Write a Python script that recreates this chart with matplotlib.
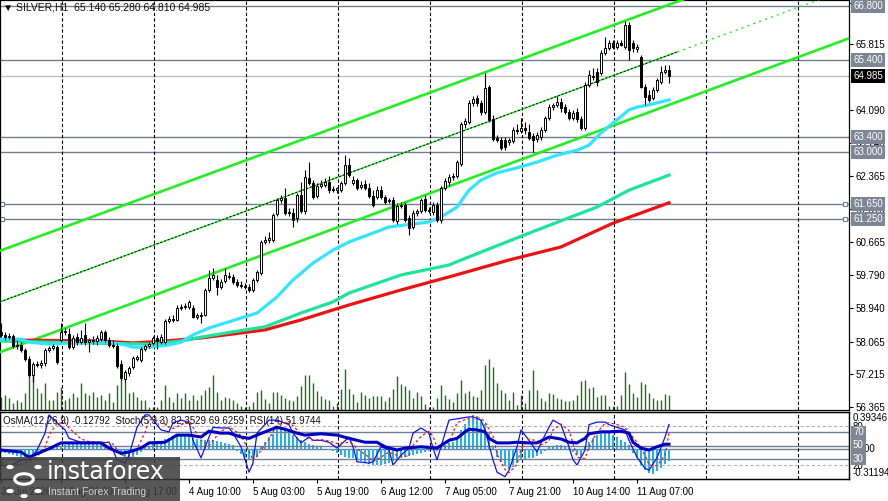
import matplotlib
matplotlib.use('Agg')  # no display in the sandbox

import matplotlib.pyplot as plt
import matplotlib.transforms as mtransforms
from matplotlib.patches import Rectangle, Circle
import numpy as np

plt.rcParams['font.family'] = ['Liberation Sans', 'DejaVu Sans']

# ---- SILVER H1 candles ----
opens = [58.32, 58.24, 58.18, 58.21, 57.95, 57.98, 57.85, 57.61, 57.20, 57.48,
         57.45, 57.51, 57.85, 57.90, 57.92, 58.11, 58.32, 58.26, 57.92, 58.18,
         58.05, 58.24, 58.05, 58.11, 58.08, 58.13, 58.32, 58.11, 57.98, 57.95,
         57.48, 57.09, 57.25, 57.40, 57.61, 57.59, 57.87, 57.95, 58.03, 58.16,
         58.05, 58.05, 58.60, 58.65, 58.63, 58.94, 58.97, 58.97, 58.94, 58.70,
         58.76, 58.76, 59.41, 59.72, 59.67, 59.49, 59.64, 59.75, 59.75, 59.62,
         59.54, 59.51, 59.49, 59.41, 59.67, 59.85, 60.66, 60.71, 60.71, 61.39,
         61.75, 61.80, 61.41, 61.41, 61.28, 61.88, 61.47, 62.33, 62.20, 61.86,
         62.12, 62.14, 62.22, 62.01, 62.01, 62.01, 62.20, 62.66, 62.20, 62.27,
         62.09, 62.17, 62.06, 61.86, 61.83, 62.01, 61.83, 61.73, 61.75, 61.21,
         61.60, 61.62, 61.28, 61.05, 61.41, 61.47, 61.78, 61.49, 61.44, 61.62,
         61.23, 62.06, 62.22, 62.35, 62.38, 62.69, 63.73, 63.78, 64.28, 64.41,
         64.28, 64.04, 64.70, 63.86, 63.37, 63.32, 63.32, 63.26, 63.29, 63.58,
         63.55, 63.63, 63.52, 63.42, 63.34, 63.39, 63.58, 63.89, 64.17, 64.23,
         64.30, 64.17, 64.04, 63.89, 64.04, 63.86, 63.63, 64.75, 64.98, 65.09,
         65.06, 65.58, 65.71, 65.84, 65.74, 65.84, 65.74, 66.31, 65.84, 65.69,
         65.48, 64.70, 64.49, 64.41, 64.62, 64.83, 65.09, 65.140]
highs = [58.55, 58.32, 58.29, 58.26, 58.11, 58.05, 57.90, 57.69, 57.53, 57.56,
         57.59, 57.90, 57.95, 58.00, 57.98, 58.55, 58.42, 58.42, 58.24, 58.29,
         58.37, 58.55, 58.16, 58.21, 58.24, 58.37, 58.37, 58.18, 58.11, 58.03,
         57.59, 57.33, 57.43, 57.69, 57.72, 57.92, 58.00, 58.05, 58.21, 58.24,
         58.26, 58.65, 58.73, 58.76, 59.02, 59.04, 59.07, 59.15, 59.02, 58.81,
         58.84, 59.46, 59.93, 59.98, 59.80, 59.70, 59.98, 59.88, 59.83, 59.70,
         59.64, 59.59, 59.57, 59.72, 59.93, 60.71, 60.82, 60.92, 61.41, 61.80,
         61.88, 62.06, 61.54, 61.54, 61.94, 62.22, 62.53, 62.74, 62.27, 62.20,
         62.27, 62.33, 62.38, 62.12, 62.09, 62.25, 62.92, 62.85, 62.38, 62.33,
         62.25, 62.27, 62.20, 62.01, 62.12, 62.12, 61.88, 61.80, 61.83, 61.68,
         61.70, 61.70, 61.36, 61.49, 61.52, 61.80, 61.88, 61.57, 61.70, 61.70,
         62.12, 62.33, 62.43, 62.46, 62.79, 63.78, 63.89, 64.36, 64.46, 64.49,
         64.36, 65.06, 64.75, 63.97, 63.45, 63.39, 63.39, 63.37, 63.65, 63.73,
         63.89, 63.78, 63.72, 63.50, 63.52, 63.65, 63.94, 64.25, 64.28, 64.46,
         64.41, 64.25, 64.12, 64.10, 64.15, 63.94, 64.83, 65.14, 65.19, 65.19,
         65.66, 66.00, 65.92, 65.92, 65.92, 65.92, 66.41, 66.39, 65.92, 65.82,
         65.53, 64.77, 64.62, 64.70, 64.93, 65.24, 65.27, 65.280]
lows = [58.18, 58.11, 58.13, 57.90, 57.87, 57.79, 57.56, 57.14, 57.01, 57.40,
        57.38, 57.43, 57.79, 57.85, 57.48, 58.05, 58.24, 57.87, 57.87, 57.98,
        58.00, 57.98, 57.79, 58.00, 57.98, 58.08, 58.05, 57.92, 57.90, 57.38,
        57.07, 56.99, 57.17, 57.35, 57.56, 57.53, 57.82, 57.90, 57.98, 57.87,
        58.00, 58.00, 58.55, 58.58, 58.60, 58.89, 58.91, 58.91, 58.68, 58.65,
        58.55, 58.73, 59.36, 59.67, 59.28, 59.44, 59.59, 59.70, 59.57, 59.49,
        59.46, 59.44, 59.36, 59.36, 59.62, 59.80, 60.61, 60.63, 60.66, 61.34,
        61.68, 61.36, 61.34, 61.05, 61.18, 61.41, 61.39, 62.14, 61.78, 61.80,
        62.06, 62.09, 61.94, 61.96, 61.94, 61.96, 62.14, 62.35, 62.14, 62.01,
        62.04, 62.01, 61.80, 61.57, 61.78, 61.78, 61.65, 61.68, 61.18, 61.13,
        61.54, 61.18, 60.84, 61.00, 61.34, 61.41, 61.44, 61.41, 61.36, 61.18,
        61.15, 62.01, 62.12, 62.27, 62.33, 62.64, 63.63, 63.73, 64.20, 64.20,
        63.97, 63.99, 63.78, 63.29, 63.26, 63.05, 63.05, 63.18, 63.24, 63.47,
        63.50, 63.47, 63.32, 63.00, 63.26, 63.32, 63.52, 63.84, 64.10, 64.17,
        64.04, 63.99, 63.84, 63.84, 63.78, 63.58, 63.58, 64.70, 64.88, 64.72,
        65.01, 65.53, 65.66, 65.69, 65.69, 65.76, 65.69, 65.40, 65.61, 65.61,
        64.67, 64.23, 64.30, 64.36, 64.56, 64.77, 65.03, 64.810]
closes = [58.24, 58.18, 58.21, 57.95, 57.98, 57.85, 57.61, 57.20, 57.48, 57.45,
          57.51, 57.85, 57.90, 57.95, 57.53, 58.32, 58.34, 57.92, 58.16, 58.05,
          58.16, 58.05, 58.11, 58.08, 58.16, 58.32, 58.11, 57.98, 57.95, 57.43,
          57.12, 57.27, 57.38, 57.64, 57.66, 57.87, 57.95, 58.00, 58.16, 58.08,
          58.18, 58.60, 58.65, 58.63, 58.94, 58.97, 58.99, 59.10, 58.70, 58.76,
          58.73, 59.41, 59.72, 59.80, 59.49, 59.62, 59.80, 59.77, 59.62, 59.54,
          59.51, 59.49, 59.41, 59.67, 59.88, 60.66, 60.71, 60.76, 61.36, 61.75,
          61.80, 61.41, 61.44, 61.23, 61.88, 61.47, 62.35, 62.20, 61.83, 62.12,
          62.17, 62.22, 62.01, 62.04, 62.06, 62.20, 62.66, 62.40, 62.27, 62.06,
          62.14, 62.06, 61.86, 61.62, 62.01, 61.83, 61.70, 61.75, 61.23, 61.60,
          61.62, 61.23, 61.02, 61.41, 61.47, 61.75, 61.49, 61.47, 61.62, 61.23,
          62.06, 62.25, 62.35, 62.38, 62.74, 63.72, 63.81, 64.28, 64.38, 64.28,
          64.04, 64.67, 63.84, 63.34, 63.32, 63.11, 63.13, 63.32, 63.58, 63.55,
          63.63, 63.58, 63.37, 63.32, 63.45, 63.58, 63.89, 64.17, 64.23, 64.30,
          64.15, 64.04, 63.89, 64.02, 63.86, 63.63, 64.75, 65.01, 64.96, 64.83,
          65.58, 65.71, 65.84, 65.74, 65.84, 65.79, 66.31, 65.66, 65.71, 65.74,
          64.70, 64.44, 64.36, 64.62, 64.88, 65.09, 65.14, 64.985]
volumes = [520, 600, 480, 280, 400, 320, 680, 1800, 1400, 880,
           680, 1080, 400, 400, 720, 920, 400, 480, 680, 520,
           1080, 680, 600, 720, 520, 600, 400, 680, 320, 1000,
           1720, 1080, 680, 720, 520, 400, 400, 120, 120, 120,
           400, 1000, 520, 320, 680, 480, 680, 400, 600, 400,
           600, 800, 920, 1400, 720, 400, 520, 480, 400, 280,
           160, 120, 160, 320, 720, 800, 440, 280, 720, 720,
           600, 480, 400, 360, 560, 960, 1400, 1400, 1080, 760,
           560, 440, 400, 160, 280, 840, 1640, 840, 640, 320,
           720, 600, 480, 560, 560, 560, 360, 520, 840, 1360,
           1040, 960, 800, 480, 720, 560, 240, 120, 120, 480,
           1000, 600, 440, 320, 680, 1200, 680, 760, 560, 520,
           800, 1800, 2040, 1720, 1080, 800, 680, 400, 720, 200,
           600, 280, 800, 1600, 800, 480, 360, 680, 640, 480,
           440, 360, 360, 400, 600, 1160, 1200, 880, 920, 520,
           600, 600, 160, 160, 160, 600, 1520, 1040, 680, 520,
           1120, 1040, 680, 480, 400, 400, 640, 600]

# moving averages (sampled along the lines)
ma_fast_idx = [0, 5, 7, 12, 17, 22, 27, 31, 33, 37, 42, 45, 48, 52, 57, 60, 64, 69, 73, 78,
               83, 87, 95, 97, 107, 110, 114, 117, 120, 124, 129, 134, 139, 144, 147, 150,
               154, 157, 159, 162, 167]
ma_fast = [58.13, 58.13, 58.05, 58.00, 58.03, 58.05, 58.05, 57.98, 57.92, 57.92,
           57.98, 58.05, 58.24, 58.42, 58.58, 58.68, 58.81, 59.23, 59.67, 60.11,
           60.45, 60.66, 60.97, 61.05, 61.18, 61.31, 61.57, 62.01, 62.27, 62.46,
           62.59, 62.74, 62.92, 63.05, 63.18, 63.50, 63.84, 64.10, 64.17, 64.23, 64.36]
ma_mid_idx = [0, 20, 37, 45, 50, 58, 66, 75, 83, 87, 100, 112, 115, 132, 149, 157, 167]
ma_mid = [58.08, 58.03, 58.00, 58.08, 58.18, 58.32, 58.45, 58.81, 59.10, 59.33,
          59.80, 60.06, 60.19, 60.89, 61.57, 62.01, 62.40]
ma_slow_idx = [0, 25, 33, 41, 50, 60, 66, 75, 83, 87, 100, 112, 127, 140, 153, 167]
ma_slow = [58.11, 58.08, 58.03, 58.08, 58.16, 58.29, 58.37, 58.63, 58.89, 59.02,
           59.41, 59.75, 60.19, 60.53, 61.15, 61.68]

# equidistant channel anchors
chan_idx = [0, 167]
chan_upper = [60.44, 66.84]
chan_mid = [59.11, 65.53]
chan_lower = [57.80, 64.23]

levels = [66.800, 65.400, 63.400, 63.000, 61.650, 61.250]
last_price = 64.985
price_ticks = [66.885, 65.815, 64.090, 63.240, 62.365, 61.515, 60.665,
               59.790, 58.940, 58.065, 57.215, 56.365]

# OsMA(12,26,9) histogram
osma = [-0.04, -0.04, -0.05, -0.06, -0.07, -0.08, -0.08, -0.08, -0.07, -0.06,
        -0.05, -0.03, -0.01, 0.01, 0.02,
        0.04, 0.05, 0.06, 0.07, 0.07, 0.07, 0.07, 0.07, 0.06, 0.06, 0.06, 0.05, 0.04,
        -0.01, -0.03, -0.06, -0.08, -0.09, -0.08, -0.06, -0.03,
        0.02, 0.04, 0.06, 0.07,
        0.09, 0.11, 0.12, 0.14, 0.15, 0.15, 0.15, 0.14, 0.12, 0.11, 0.10,
        0.10, 0.10, 0.10, 0.09, 0.08, 0.07, 0.06, 0.05,
        -0.02, -0.05, -0.08, -0.11, -0.12, -0.08,
        0.02, 0.08, 0.13, 0.17, 0.22, 0.24, 0.23, 0.20,
        0.16, 0.13, 0.10, 0.08, 0.06, 0.05, 0.04,
        0.02, 0.00, -0.01, -0.02,
        -0.04, -0.06, -0.08, -0.09, -0.10, -0.12, -0.13, -0.15, -0.16, -0.17,
        -0.17, -0.17, -0.16, -0.15, -0.13,
        -0.11, -0.09, -0.08, -0.07, -0.06, -0.05, -0.04, -0.03, -0.02,
        0.01, -0.02,
        0.03, 0.05, 0.07, 0.08,
        0.12, 0.21, 0.27, 0.33, 0.37, 0.36, 0.32, 0.27, 0.18, 0.03,
        -0.08, -0.14, -0.18, -0.21, -0.19, -0.15, -0.12, -0.11, -0.10, -0.09, -0.07,
        -0.05, -0.02,
        0.02, 0.04, 0.05, 0.05, 0.04,
        0.01, -0.03, -0.06, -0.08,
        0.02, 0.08, 0.12, 0.15, 0.18, 0.19, 0.18, 0.16, 0.13, 0.10,
        0.08, 0.05,
        -0.04, -0.10, -0.17, -0.22, -0.26, -0.27, -0.24, -0.20, -0.16, -0.128]

# Stochastic(5,3,3) main / signal
stoch_idx = [0, 2, 5, 7, 9, 11, 12, 14, 16, 17, 20, 22, 25, 27, 28, 29, 31, 32, 34, 36,
             37, 40, 42, 43, 45, 47, 48, 50, 52, 53, 55, 57, 58, 60, 62, 63, 64, 67, 69, 72,
             73, 75, 77, 78, 80, 82, 84, 87, 88, 89, 92, 93, 95, 97, 98, 100, 102, 103, 105,
             107, 108, 109, 112, 114, 117, 118, 120, 121, 123, 124, 126, 127, 129, 130, 132,
             134, 135, 137, 138, 140, 142, 143, 144, 146, 147, 149, 151, 152, 154, 156, 157,
             159, 161, 162, 164, 166, 167]
stoch_main = [20, 17, 28, 28, 43, 69, 97, 85, 74, 61, 55, 55, 54, 55, 43, 28, 23, 35, 78, 97,
              97, 74, 71, 85, 89, 86, 58, 31, 63, 78, 77, 77, 69, 48, 9, 23, 69, 89, 89, 82,
              69, 54, 63, 58, 58, 55, 46, 63, 48, 25, 23, 25, 48, 43, 20, 35, 46, 69, 77,
              69, 46, 28, 89, 91, 94, 94, 89, 74, 28, 9, 2, 12, 48, 74, 58,
              40, 54, 78, 89, 82, 48, 28, 20, 43, 82, 86, 86, 82, 78, 74, 58,
              32, 15, 12, 31, 63, 82.35]
stoch_signal = [24, 20, 21, 25, 33, 47, 66, 84, 85, 77, 60, 56, 55, 55, 52, 44, 32, 28, 45, 70,
                90, 88, 78, 76, 82, 87, 78, 58, 50, 58, 72, 78, 75, 65, 42, 27, 34, 60, 82, 87,
                80, 68, 60, 58, 59, 57, 53, 55, 52, 45, 32, 25, 32, 40, 37, 33, 34, 50, 64,
                72, 64, 48, 55, 85, 92, 93, 92, 86, 64, 37, 13, 8, 21, 45, 60,
                57, 51, 57, 74, 83, 73, 53, 32, 30, 48, 70, 84, 85, 82, 78, 70,
                55, 35, 20, 19, 35, 69.63]

# RSI(14)
rsi_idx = [0, 5, 7, 10, 12, 15, 17, 22, 25, 27, 30, 32, 35, 37, 41, 44, 47, 50, 52, 55,
           57, 60, 62, 64, 66, 69, 71, 74, 76, 80, 84, 87, 91, 94, 96, 99, 101, 105, 107,
           109, 111, 112, 114, 116, 117, 119, 121, 122, 124, 127, 129, 132, 134, 136, 137,
           140, 142, 144, 146, 147, 150, 152, 155, 157, 158, 160, 162, 164, 166, 167]
rsi_vals = [43, 40, 32, 40, 45, 54, 54, 54, 54, 46, 38, 40, 46, 54, 55, 66, 66, 63, 72, 69,
            69, 63, 61, 66, 71, 78, 75, 69, 66, 68, 66, 61, 55, 55, 48, 43, 46, 48, 47,
            46, 54, 58, 61, 71, 75, 74, 71, 61, 54, 54, 55, 54, 54, 60, 63,
            60, 55, 54, 61, 68, 71, 71, 72, 69, 55, 46, 43, 48, 52, 51.97]

time_idx = [0, 15, 31, 47, 63, 79, 95, 111, 127, 143, 159]
time_labels = ['31 Jul 2026', '3 Aug 01:00', '3 Aug 17:00', '4 Aug 10:00', '5 Aug 03:00',
               '5 Aug 19:00', '6 Aug 12:00', '7 Aug 05:00', '7 Aug 21:00',
               '10 Aug 14:00', '11 Aug 07:00']

# ---- figure ----
W, H = 888, 501
fig = plt.figure(figsize=(W / 100, H / 100), dpi=100)
ax = fig.add_axes([0, 1 - 410 / H, 849 / W, 410 / H])
vax = ax.twinx()
ax.set_zorder(vax.get_zorder() + 1)
ax.patch.set_visible(False)

XMAX = 212
idx = np.arange(len(closes))
o = np.array(opens)
c = np.array(closes)

# volumes
vax.vlines(idx, 0, volumes, color='#117711', lw=1.0)
vax.set_ylim(0, 16400)
vax.set_yticks([])
for s in vax.spines.values():
    s.set_visible(False)

level_col = '#6e7d93'
for lvl in levels:
    ax.axhline(lvl, color=level_col, lw=1.0, zorder=1)
ax.axhline(last_price, color='#c0c0c0', lw=1.0, zorder=1)
for lvl in (61.650, 61.250):
    ax.plot([0.3, XMAX - 0.9], [lvl, lvl], ls='none', marker='s', ms=3.2,
            mfc='white', mec=level_col, mew=0.8, zorder=2, clip_on=False)

# vertical dashed grid
grid_x = 15.2 + 23 * np.arange(9)
for gx in grid_x:
    ax.axvline(gx, color='black', lw=0.8, ls=(0, (3, 2)), zorder=1)

# channel
x0, x1 = -0.3, XMAX
for anchors, lw in ((chan_upper, 1.9), (chan_lower, 1.9)):
    k = (anchors[1] - anchors[0]) / (chan_idx[1] - chan_idx[0])
    ax.plot([x0, x1], [anchors[0] + k * x0, anchors[0] + k * x1], color='#22ee22', lw=lw, zorder=3)
k = (chan_mid[1] - chan_mid[0]) / (chan_idx[1] - chan_idx[0])
xm = 169
ax.plot([x0, xm], [chan_mid[0] + k * x0, chan_mid[0] + k * xm], color='#22ee22', lw=1.0, zorder=3)
ax.plot([x0, xm], [chan_mid[0] + k * x0, chan_mid[0] + k * xm], color='black', lw=0.7,
        ls=(0, (2, 2)), zorder=3)
ax.plot([xm, x1], [chan_mid[0] + k * xm, chan_mid[0] + k * x1], color='#22ee22', lw=1.0,
        ls=(0, (1.5, 3)), zorder=3)

# moving averages
ax.plot(ma_slow_idx, ma_slow, color='#ee1111', lw=2.3, zorder=3)
ax.plot(ma_mid_idx, ma_mid, color='#1ee39c', lw=2.3, zorder=3)
ax.plot(ma_fast_idx, ma_fast, color='#33e4ff', lw=2.3, zorder=3)

# candles
ax.vlines(idx, lows, highs, color='black', lw=0.8, zorder=4)
body_col = np.where(c >= o, 'white', 'black')
ax.bar(idx, np.abs(c - o), bottom=np.minimum(o, c), width=0.55, color=body_col,
       edgecolor='black', linewidth=0.7, zorder=5)

ax.set_xlim(-0.25, XMAX)
ax.set_ylim(56.284, 66.961)
ax.set_xticks([])
ax.yaxis.tick_right()
ax.set_yticks(price_ticks)
ax.set_yticklabels(['%.3f' % v for v in price_ticks])
ax.tick_params(axis='y', direction='out', length=3, width=0.8, pad=2, labelsize=7)
for s in ax.spines.values():
    s.set_color('black')
    s.set_linewidth(0.9)

tr = mtransforms.blended_transform_factory(ax.transAxes, ax.transData)
for lvl in levels:
    ax.text(1 + 4 / 849, lvl, '%.3f' % lvl, transform=tr, ha='left', va='center',
            color='white', fontsize=7, zorder=10, clip_on=False,
            bbox=dict(boxstyle='square,pad=0.22', fc='#7d8694', ec='none'))
ax.text(1 + 4 / 849, last_price, '%.3f' % last_price, transform=tr, ha='left', va='center',
        color='white', fontsize=7, zorder=10, clip_on=False,
        bbox=dict(boxstyle='square,pad=0.22', fc='black', ec='none'))

ax.text(0.003, 1 - 7 / 410, '\u25bc SILVER,H1  %.3f %.3f %.3f %.3f'
        % (opens[-1], highs[-1], lows[-1], closes[-1]),
        transform=ax.transAxes, ha='left', va='center', fontsize=7.5, color='#111111', zorder=10)

# ---- indicator window ----
ox = fig.add_axes([0, 1 - 479 / H, 849 / W, 67 / H])
sx = ox.twinx()
ox.bar(idx, osma, width=0.72, color='#1fb4ef', zorder=2)
ox.axhline(0, color=level_col, lw=1.0, zorder=1)
for gx in grid_x:
    ox.axvline(gx, color='black', lw=0.8, ls=(0, (3, 2)), zorder=1)
ox.set_ylim(-0.32279, 0.40431)
ox.set_xlim(-0.25, XMAX)
ox.set_yticks([])

for lvl in (80, 20):
    sx.axhline(lvl, color='#b4b4b4', lw=0.8, ls=(0, (3, 2)), zorder=1)
for lvl in (70, 50, 30):
    sx.axhline(lvl, color=level_col, lw=1.0, zorder=1)
sx.plot(stoch_idx, stoch_main, color='#1010ff', lw=0.9, zorder=3)
sx.plot(stoch_idx, stoch_signal, color='#ff1010', lw=0.9, ls=(0, (2, 2)), zorder=3)
sx.plot(rsi_idx, rsi_vals, color='#0000c0', lw=2.2, zorder=4)
sx.set_ylim(-1.5, 101.5)
sx.set_yticks([])
for a in (ox, sx):
    for s in a.spines.values():
        s.set_color('black')
        s.set_linewidth(0.9)

ox.set_xticks(time_idx)
ox.set_xticklabels(time_labels)
ox.tick_params(axis='x', length=3, width=0.8, pad=3, labelsize=7)
for lbl in ox.get_xticklabels():
    lbl.set_horizontalalignment('left')

sx.text(0.003, 0.87, 'OsMA(12,26,9) -0.12792  Stoch(5,3,3) 82.3529 69.6259  RSI(14) 51.9744',
        transform=sx.transAxes, ha='left', va='center', fontsize=7, color='#111111', zorder=10)

trs = mtransforms.blended_transform_factory(sx.transAxes, sx.transData)
tro = mtransforms.blended_transform_factory(ox.transAxes, ox.transData)
lx = 1 + 4 / 849
sx.text(lx, 100, '0.39346', transform=trs, ha='left', va='top', fontsize=7, clip_on=False)
sx.text(lx, 0, '-0.31194', transform=trs, ha='left', va='bottom', fontsize=7, clip_on=False)
sx.text(lx, 79, '80', transform=trs, ha='left', va='center', fontsize=7, clip_on=False)
sx.text(lx, 19, '20', transform=trs, ha='left', va='center', fontsize=7, clip_on=False)
ox.text(lx + 0.004, 0, '0.00', transform=tro, ha='left', va='center', fontsize=7, clip_on=False)
for lvl in (70, 50, 30):
    sx.text(lx, lvl, str(lvl), transform=trs, ha='left', va='center', color='white',
            fontsize=7, clip_on=False, zorder=10,
            bbox=dict(boxstyle='square,pad=0.18', fc='#7d8694', ec='none'))

# ---- logo ----
fig.patches.append(Rectangle((0, 0), 180 / W, 44 / H, transform=fig.transFigure,
                             facecolor='#3c3c3c', alpha=0.86, edgecolor='none'))
cx, cy = 24 / W, 1 - 479 / H
fig.patches.append(Circle((cx, cy), 0.0105, transform=fig.transFigure, fill=False,
                          edgecolor='white', lw=2.2))
for dx, dy in ((-14, -12), (14, -12), (-14, 12), (14, 12), (0, -17)):
    fig.patches.append(Circle((cx + dx / W, cy + dy / H), 0.0042, transform=fig.transFigure,
                              facecolor='white', edgecolor='none'))
fig.text(47 / W, 1 - 472 / H, 'instaforex', family='DejaVu Sans', fontsize=17,
         color='white', ha='left', va='center')
fig.text(48 / W, 1 - 492 / H, 'Instant Forex Trading', fontsize=7.5,
         color='#d0d0d0', ha='left', va='center')

fig.savefig('out.png', dpi=100, facecolor='white')
